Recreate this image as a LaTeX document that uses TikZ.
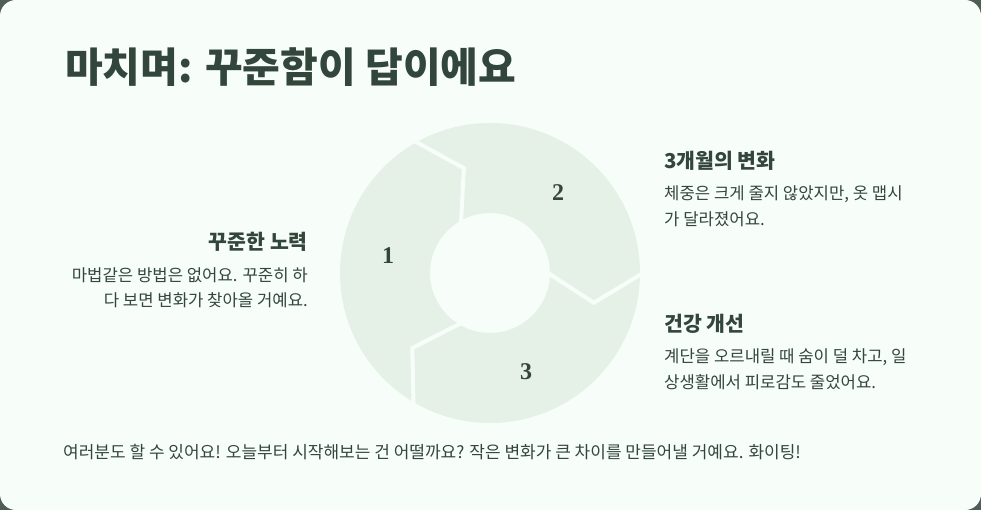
\documentclass[tikz,border=0pt]{standalone}
\usepackage{fontspec}
\setmainfont{Noto Sans CJK KR}
\newfontfamily\numfont{Liberation Serif}
\usetikzlibrary{calc}
\definecolor{cardbg}{HTML}{F7FDF8}
\definecolor{outerbg}{HTML}{4E5E56}
\definecolor{ink}{HTML}{33463C}
\definecolor{donut}{HTML}{E5F1E7}
\tikzset{
  title/.style={anchor=base west,font=\fontsize{41}{46}\selectfont\bfseries,text=ink,inner sep=0},
  head/.style={font=\fontsize{20.5}{24}\selectfont\bfseries,text=ink,inner sep=0},
  body/.style={font=\fontsize{16.7}{20}\selectfont,text=ink,inner sep=0},
  foot/.style={font=\fontsize{17}{20}\selectfont,text=ink,inner sep=0},
  num/.style={font=\fontsize{24}{26}\selectfont\bfseries\numfont,text=ink,inner sep=0},
  sep/.style={draw=cardbg,line width=4pt,line join=miter}
}
\begin{document}
\begin{tikzpicture}[x=1pt,y=-1pt]
\fill[outerbg] (0,0) rectangle (981,510);
\fill[cardbg,rounded corners=16pt] (0,0) rectangle (981,510);
\useasboundingbox (0,0) rectangle (981,510);
\node[title] (t) at (65,83) {마치며: 꾸준함이 답이에요};
\coordinate (c) at (490,273);
\fill[donut,even odd rule] (c) circle (150) (c) circle (60);
\foreach \a in {0,120,240}{
  \draw[sep] ($(c)+(-\a:58)$) -- ($(c)+(-\a+16:108)$) -- ($(c)+(-\a:153)$);
}
\node[num] (n1) at (388,256) {1};
\node[num] (n2) at (558,193) {2};
\node[num] (n3) at (526,372) {3};
\node[head,anchor=base east] (h1) at (308,250) {꾸준한 노력};
\node[body,anchor=base east] (b1a) at (308,281) {마법같은 방법은 없어요. 꾸준히 하};
\node[body,anchor=base east] (b1b) at (308,306) {다 보면 변화가 찾아올 거예요.};
\node[head,anchor=base west] (h2) at (664,169) {3개월의 변화};
\node[body,anchor=base west] (b2a) at (664,200) {체중은 크게 줄지 않았지만, 옷 맵시};
\node[body,anchor=base west] (b2b) at (664,226) {가 달라졌어요.};
\node[head,anchor=base west] (h3) at (664,331) {건강 개선};
\node[body,anchor=base west] (b3a) at (664,362) {계단을 오르내릴 때 숨이 덜 차고, 일};
\node[body,anchor=base west] (b3b) at (664,388) {상생활에서 피로감도 줄었어요.};
\node[foot,anchor=base west] (f) at (63,458) {여러분도 할 수 있어요! 오늘부터 시작해보는 건 어떨까요? 작은 변화가 큰 차이를 만들어낼 거예요. 화이팅!};
\end{tikzpicture}
\end{document}
